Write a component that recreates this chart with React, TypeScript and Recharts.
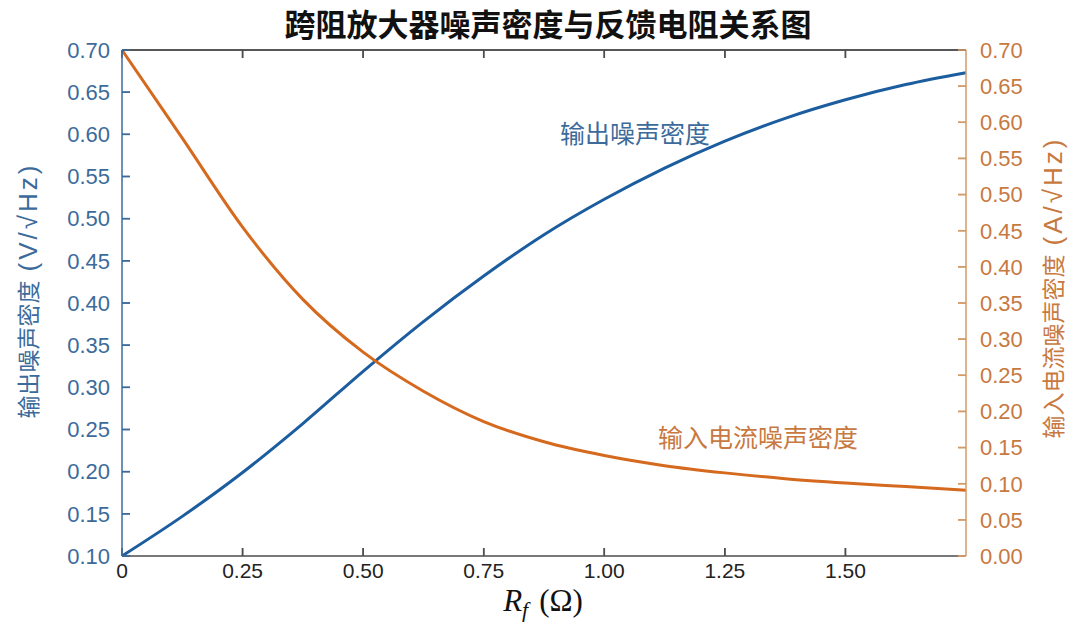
import { LineChart, Line, XAxis, YAxis } from "recharts";

// R_f values (Ω) and the two curves
const rf = [0, 0.125, 0.25, 0.375, 0.5, 0.625, 0.75, 0.875, 1.0, 1.125, 1.25, 1.375, 1.5, 1.625, 1.75];
const outputNoise = [0.1, 0.147, 0.199, 0.257, 0.319, 0.378, 0.432, 0.481, 0.523, 0.56, 0.592, 0.619, 0.641, 0.659, 0.673];
const inputCurrentNoise = [0.7, 0.578, 0.455, 0.355, 0.282, 0.228, 0.186, 0.158, 0.139, 0.125, 0.115, 0.107, 0.101, 0.096, 0.091];

const xTicks = [0, 0.25, 0.5, 0.75, 1.0, 1.25, 1.5];
const leftTicks = [0.1, 0.15, 0.2, 0.25, 0.3, 0.35, 0.4, 0.45, 0.5, 0.55, 0.6, 0.65, 0.7];
const rightTicks = [0, 0.05, 0.1, 0.15, 0.2, 0.25, 0.3, 0.35, 0.4, 0.45, 0.5, 0.55, 0.6, 0.65, 0.7];

const X_MAX = 1.75;

// plot box (from chart size, margins and axis widths below)
const PLOT = { left: 122, right: 966, top: 50, bottom: 556 };
const TICK = 8;

const BLUE = "#1b5d9e";
const BLUE_TEXT = "#3c6b9b";
const ORANGE = "#d5691e";
const ORANGE_TEXT = "#c8793f";
const ORANGE_AXIS = "#d39a68";
const AXIS = "#4d4d4d";
const FONT = "'Liberation Sans', 'Noto Sans CJK SC', sans-serif";
const CJK = "'Noto Sans CJK SC', sans-serif";

const data = rf.map((r, i) => ({ r, out: outputNoise[i], inp: inputCurrentNoise[i] }));

const fmtX = (v: number) => (v === 0 ? "0" : v.toFixed(2));
const fmtY = (v: number) => v.toFixed(2);

// pixel helpers for the frame ticks only
const xPx = (v: number) => PLOT.left + (v / X_MAX) * (PLOT.right - PLOT.left);
const yLeftPx = (v: number) => PLOT.bottom - ((v - 0.1) / 0.6) * (PLOT.bottom - PLOT.top);
const yRightPx = (v: number) => PLOT.bottom - (v / 0.7) * (PLOT.bottom - PLOT.top);

const abs = (extra: any) => ({ position: "absolute" as const, whiteSpace: "nowrap" as const, ...extra });

export default function App() {
  return (
    <div style={{ position: "absolute", left: 0, top: 0, width: 1080, height: 643 }}>
      <div style={abs({ left: 0, top: 7, width: 1096, textAlign: "center", fontFamily: CJK, fontSize: 31, fontWeight: 600, lineHeight: "31px", color: "#111" })}>
        跨阻放大器噪声密度与反馈电阻关系图
      </div>
      <div style={{ position: "absolute", left: 0, top: 0 }}>
        <LineChart width={1080} height={643} data={data} margin={{ top: 30, right: 0, bottom: 0, left: 0 }}>
          <XAxis
            dataKey="r"
            type="number"
            domain={[0, X_MAX]}
            ticks={xTicks}
            height={87}
            tickSize={-TICK}
            tickMargin={15}
            tickFormatter={fmtX}
            tick={{ fill: "#222", fontSize: 21, fontFamily: FONT }}
            tickLine={{ stroke: AXIS, strokeWidth: 1.5 }}
            axisLine={{ stroke: AXIS, strokeWidth: 1.5 }}
            interval={0}
          />
          <XAxis
            xAxisId="top"
            orientation="top"
            dataKey="r"
            type="number"
            domain={[0, X_MAX]}
            ticks={xTicks}
            height={20}
            tickSize={-TICK}
            tickMargin={0}
            tickFormatter={() => ""}
            tickLine={{ stroke: AXIS, strokeWidth: 1.5 }}
            axisLine={{ stroke: AXIS, strokeWidth: 1.5 }}
            interval={0}
          />
          <YAxis
            yAxisId="left"
            domain={[0.1, 0.7]}
            ticks={leftTicks}
            width={122}
            tickSize={-TICK}
            tickMargin={20}
            tickFormatter={fmtY}
            tick={{ fill: BLUE_TEXT, fontSize: 22, fontFamily: FONT }}
            tickLine={{ stroke: BLUE_TEXT, strokeWidth: 1.5 }}
            axisLine={{ stroke: BLUE_TEXT, strokeWidth: 1.5 }}
            interval={0}
          />
          <YAxis
            yAxisId="right"
            orientation="right"
            domain={[0, 0.7]}
            ticks={rightTicks}
            width={114}
            tickSize={-TICK}
            tickMargin={22}
            tickFormatter={fmtY}
            tick={{ fill: ORANGE_TEXT, fontSize: 22, fontFamily: FONT }}
            tickLine={{ stroke: ORANGE_AXIS, strokeWidth: 1.5 }}
            axisLine={{ stroke: ORANGE_AXIS, strokeWidth: 1.5 }}
            interval={0}
          />
          <Line yAxisId="left" dataKey="out" type="monotone" stroke={BLUE} strokeWidth={3} dot={false} isAnimationActive={false} />
          <Line xAxisId="top" yAxisId="right" dataKey="inp" type="monotone" stroke={ORANGE} strokeWidth={3} dot={false} isAnimationActive={false} />
        </LineChart>
      </div>

      {/* frame top edge and inward ticks */}
      <svg width={1080} height={643} style={{ position: "absolute", left: 0, top: 0, pointerEvents: "none" }}>
        <line x1={PLOT.left} x2={PLOT.right} y1={PLOT.top} y2={PLOT.top} stroke={AXIS} strokeWidth={1.5} />
        {xTicks.slice(1).map((t) => (
          <g key={"x" + t}>
            <line x1={xPx(t)} x2={xPx(t)} y1={PLOT.bottom} y2={PLOT.bottom - TICK} stroke={AXIS} strokeWidth={1.5} />
            <line x1={xPx(t)} x2={xPx(t)} y1={PLOT.top} y2={PLOT.top + TICK} stroke={AXIS} strokeWidth={1.5} />
          </g>
        ))}
        {leftTicks.map((v) => (
          <line key={"l" + v} x1={PLOT.left} x2={PLOT.left + TICK} y1={yLeftPx(v)} y2={yLeftPx(v)} stroke={BLUE_TEXT} strokeWidth={1.5} />
        ))}
        {rightTicks.map((v) => (
          <line key={"r" + v} x1={PLOT.right - TICK} x2={PLOT.right} y1={yRightPx(v)} y2={yRightPx(v)} stroke={ORANGE_AXIS} strokeWidth={1.5} />
        ))}
      </svg>

      <div style={abs({ left: 560, top: 120, fontFamily: CJK, fontSize: 25, lineHeight: "25px", color: BLUE_TEXT })}>
        输出噪声密度
      </div>
      <div style={abs({ left: 658, top: 424, fontFamily: CJK, fontSize: 25, lineHeight: "25px", color: ORANGE_TEXT })}>
        输入电流噪声密度
      </div>

      <div style={abs({ left: 343, top: 585, width: 400, textAlign: "center", fontFamily: "'Liberation Serif', serif", fontSize: 31, lineHeight: "31px", color: "#111" })}>
        <i>R</i>
        <i style={{ fontSize: 22, position: "relative", top: 6 }}>f</i>
        <span style={{ marginLeft: 11 }}>(Ω)</span>
      </div>

      <div style={abs({ left: 27 - 200, top: 290 - 12, width: 400, textAlign: "center", transform: "rotate(-90deg)", fontFamily: CJK, fontSize: 23, lineHeight: "24px", color: BLUE_TEXT })}>
        输出噪声密度
        <span style={{ marginLeft: 9, fontFamily: FONT, fontSize: 26, letterSpacing: 3 }}>(V/√Hz)</span>
      </div>
      <div style={abs({ left: 1052 - 200, top: 287 - 12, width: 400, textAlign: "center", transform: "rotate(-90deg)", fontFamily: CJK, fontSize: 23, lineHeight: "24px", color: ORANGE_TEXT })}>
        输入电流噪声密度
        <span style={{ marginLeft: 9, fontFamily: FONT, fontSize: 26, letterSpacing: 3 }}>(A/√Hz)</span>
      </div>
    </div>
  );
}
